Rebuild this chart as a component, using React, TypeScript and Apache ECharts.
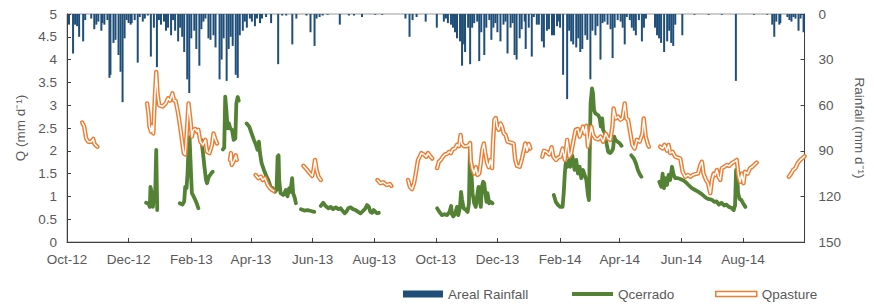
import React, { useEffect, useRef } from "react";
import * as echarts from "echarts";

const DAY = 86400000;
const START = Date.UTC(2012, 9, 1);
const END_DAY = 730;

// x-axis tick months (year, monthIndex) and their labels
const xTickMonths: [number, number][] = [
  [2012, 9], [2012, 11], [2013, 1], [2013, 3], [2013, 5], [2013, 7],
  [2013, 9], [2013, 11], [2014, 1], [2014, 3], [2014, 5], [2014, 7],
];
const xTickLabels = [
  "Oct-12", "Dec-12", "Feb-13", "Apr-13", "Jun-13", "Aug-13",
  "Oct-13", "Dec-13", "Feb-14", "Apr-14", "Jun-14", "Aug-14",
];

// Areal rainfall: [day since 1 Oct 2012, mm/day]
const rainfall: [number, number][] = [
  [2, 7], [6, 26], [8, 7], [10, 8], [12, 15], [16, 18], [18, 4], [24, 3], [27, 10], [29, 7],
  [31, 5], [34, 11], [35, 6], [37, 7], [40, 4], [42, 42], [43, 40], [46, 19], [48, 17], [51, 27],
  [53, 38], [55, 58], [57, 16], [59, 4], [61, 6], [63, 7], [64, 6], [67, 4], [70, 32], [72, 2],
  [75, 5], [77, 3], [80, 1], [83, 28], [86, 9], [89, 35], [91, 4], [93, 7], [96, 5], [98, 11],
  [100, 9], [103, 14], [105, 4], [107, 11], [110, 18], [112, 9], [114, 15], [116, 25], [119, 43], [121, 52],
  [123, 16], [126, 11], [128, 23], [131, 34], [133, 10], [135, 5], [137, 3], [140, 16], [142, 17], [145, 14],
  [147, 22], [151, 43], [153, 30], [155, 16], [158, 44], [160, 23], [162, 15], [164, 21], [167, 40], [169, 42],
  [171, 14], [174, 11], [176, 5], [178, 9], [181, 3], [183, 5], [186, 8], [188, 3], [191, 6], [193, 3],
  [197, 2], [202, 6], [209, 33], [213, 1], [217, 1], [223, 20], [227, 3], [237, 1], [241, 12], [245, 21],
  [247, 3], [250, 2], [253, 1], [258, 0.5], [270, 7], [279, 1], [284, 1], [292, 2], [305, 0.5], [312, 0.5],
  [335, 3], [339, 15], [342, 4], [346, 2], [355, 5], [366, 9], [373, 5], [375, 3], [377, 6], [380, 7],
  [382, 9], [384, 12], [386, 16], [389, 18], [391, 34], [393, 20], [394, 25], [397, 9], [399, 33], [401, 9],
  [403, 6], [406, 5], [408, 31], [410, 12], [413, 27], [415, 9], [418, 4], [420, 17], [422, 9], [424, 6],
  [426, 12], [429, 18], [432, 7], [434, 5], [436, 26], [439, 9], [441, 6], [443, 27], [445, 30], [448, 16],
  [450, 10], [453, 5], [454, 23], [457, 9], [460, 28], [462, 2], [465, 7], [467, 7], [470, 18], [472, 22],
  [475, 11], [477, 10], [480, 14], [482, 14], [485, 8], [487, 5], [488, 9], [491, 40], [495, 56], [497, 11],
  [499, 18], [501, 20], [504, 22], [506, 16], [508, 25], [510, 23], [513, 14], [515, 17], [518, 43], [520, 11],
  [523, 14], [525, 8], [528, 30], [530, 6], [532, 5], [535, 7], [538, 10], [540, 29], [542, 9], [545, 4],
  [548, 5], [550, 9], [552, 20], [554, 2], [557, 4], [559, 9], [561, 11], [563, 14], [566, 4], [569, 18],
  [571, 9], [573, 3], [582, 9], [584, 14], [586, 16], [588, 19], [591, 25], [594, 18], [596, 11], [598, 19],
  [600, 21], [602, 7], [609, 14], [621, 0.5], [635, 0.5], [648, 0.5], [662, 44], [680, 0.5], [693, 0.5], [698, 7],
  [700, 15], [702, 5], [705, 7], [706, 6], [713, 2], [715, 4], [717, 5], [719, 2], [721, 3], [724, 11],
  [726, 3], [729, 12],
];

// Qcerrado: [day, mm/day], null = gap
const qCerrado: ([number, number] | null)[] = [
  [78.3, 0.86], [80.6, 0.84], [82, 0.77], [82.6, 1.21], [84, 1.07], [85, 0.77], [86, 0.98], [87.3, 1.07], [88.3, 2.02], [89.3, 0.7], null,
  [111.6, 0.85], [114.3, 0.82], [116, 0.89], [117, 1.21], [118.3, 1.18], [119.3, 1.5], [120.3, 2.09], [121.3, 2.3], [122.6, 1.58], [123.6, 1.07], [125.3, 1.0], [127, 0.92], [128.3, 0.85], [130, 0.74], null,
  [133, 2.24], [134.6, 1.95], [136, 1.65], [137.6, 1.36], [138.6, 1.29], [140.3, 1.43], [142.6, 1.5], [144.2, 1.54], null,
  [154.3, 2.03], [155.6, 2.07], [156.6, 3.19], [157.6, 2.93], [159, 2.49], [160.3, 2.6], [161.6, 2.49], [163.3, 2.46], [165, 2.24], [166.6, 2.27], [167.6, 3.04], [169, 3.18], [170, 3.1], null,
  [177.8, 2.6], [180.4, 2.53], [182.7, 2.38], [185, 2.24], [187, 2.13], [188.6, 2.02], [189.9, 2.2], [191, 1.95], [192.6, 1.73], [194.9, 1.58], [196.9, 1.47], [199.2, 1.36], [201.5, 1.21], [203.5, 1.18], [205.8, 1.1], [207.4, 1.14], [208.4, 1.87], [209.4, 1.9], [210, 1.36], [211.4, 1.07], [214, 1.03], [216.6, 1.14], [218.2, 1.0], [219.9, 1.18], [221.2, 1.1], [222.8, 1.4], [223.8, 1.07], [225.5, 0.96], [226.5, 0.85], null,
  [231.6, 0.72], [234.9, 0.69], [238.1, 0.7], [241.4, 0.68], [244.7, 0.66], null,
  [251.2, 0.79], [253.5, 0.86], [256, 0.79], [258.7, 0.74], [261, 0.77], [263.3, 0.72], [266, 0.76], [268.6, 0.72], [270.9, 0.74], [272.5, 0.69], [274.8, 0.63], [276.4, 0.66], [278.4, 0.74], [280.7, 0.76], [283, 0.72], [285.6, 0.7], [288.2, 0.66], [290.5, 0.63], [292, 0.66], [294.8, 0.72], [297, 0.81], [298.7, 0.77], [300.3, 0.66], [302, 0.64], [303.6, 0.7], [305.3, 0.66], [307, 0.63], [308.6, 0.64], null,
  [366.3, 0.74], [368.6, 0.66], [371, 0.59], [373.6, 0.61], [376.2, 0.59], [378.5, 0.66], [380.2, 0.79], [381, 0.61], [382.4, 0.56], [384, 0.61], [386, 0.77], [387.3, 0.59], [389, 0.77], [390, 1.1], [391, 0.93], [392.6, 0.74], [394.9, 0.7], [396.5, 0.66], [397.8, 0.85], [398.8, 2.05], [399.8, 1.69], [401.4, 1.07], [403, 0.85], [404.6, 0.77], [406.3, 1.07], [407.3, 1.21], [408.3, 0.93], [409.6, 0.77], [410.6, 1.21], [411.9, 1.32], [412.9, 1.29], [413.9, 1.1], [415.2, 0.88], [416.2, 1.07], [417.8, 0.85], [419.5, 0.88], [421.1, 0.85], null,
  [481.8, 1.03], [483.8, 0.88], [486, 0.81], [488.3, 0.77], [490.5, 0.77], [491.6, 1.07], [492.7, 1.5], [493.6, 1.73], [495.2, 1.65], [497, 1.8], [498.2, 1.65], [500, 1.9], [501.4, 1.73], [502.4, 1.58], [504, 1.8], [505.7, 1.5], [507.4, 1.65], [509, 1.4], [510.6, 1.58], [512.3, 1.47], [514, 1.36], [515.6, 1.03], [516.6, 0.92], [517.3, 1.87], [518.2, 3.04], [519.6, 3.37], [520.6, 3.26], [521.6, 2.89], [523, 2.82], [525.7, 2.78], [527.3, 2.71], [528.3, 2.53], [529.7, 2.71], [530.6, 2.46], [532.4, 2.38], [534, 2.16], [535.6, 1.98], [537.3, 1.95], [538.9, 1.98], [540.5, 2.05], [541.6, 2.31], [542.8, 2.24], [544.9, 2.2], [547.2, 2.16], [548.8, 2.11], null,
  [558.5, 1.9], [561, 1.83], [563, 1.73], [565, 1.58], [567.3, 1.47], [568.5, 1.43], null,
  [586.2, 1.32], [588.2, 1.21], [589.5, 1.5], [590.8, 1.18], [592.1, 1.4], [593.8, 1.25], [595.4, 1.47], [597, 1.36], [598.8, 1.65], [600.4, 1.47], [602, 1.4], [604.6, 1.4], [607, 1.38], [610.2, 1.35], [612.5, 1.31], [615.1, 1.25], [618.4, 1.18], [621.7, 1.14], [625, 1.1], [628.2, 1.05], [630.8, 1.0], [633.1, 0.96], [635.4, 0.94], [638, 0.93], [640.6, 0.88], [642.9, 0.89], [645.2, 0.82], [647.8, 0.86], [650.4, 0.8], [652.7, 0.82], [655, 0.77], [657.6, 0.75], [659.9, 0.7], [661.2, 0.8], [662.2, 1.58], [663.2, 1.5], [664.2, 1.07], [665.8, 0.94], [667.5, 0.92], [669.1, 0.85], [671.4, 0.77],
];

// Qpasture: [day, mm/day], null = gap
const qPasture: ([number, number] | null)[] = [
  [15, 2.62], [17, 2.53], [19, 2.27], [21, 2.2], [24, 2.2], [26, 2.26], [27, 2.16], [28, 2.13], [30, 2.09], null,
  [79.3, 3.04], [80.6, 2.82], [81.6, 2.53], [83.2, 2.42], [84, 2.55], [85.4, 2.38], [87, 3.19], [88.3, 3.73], [89.6, 3.26], [91.2, 3.0], [94.5, 2.97], [97.8, 3.04], [100, 3.15], [102, 3.1], [104.3, 3.26], [106, 3.1], [107.5, 3.1], [110, 2.82], [112, 2.53], [114, 2.2], [115.6, 1.95], [117, 1.92], [118.7, 2.46], [120.3, 3.04], [122, 2.71], [123.6, 2.31], [125, 2.46], [127, 2.48], [128.6, 2.42], [130, 2.46], [132, 2.2], [134.5, 2.13], [137, 2.24], [138.6, 1.98], [141, 1.95], [143.5, 2.13], [145, 2.38], [147, 2.24], [148.6, 2.16], null,
  [161.3, 1.8], [162.3, 1.95], [163, 1.69], [165.6, 1.8], [167, 1.9], [168, 1.8], null,
  [186.7, 1.47], [189.3, 1.4], [192, 1.43], [193.6, 1.36], [196, 1.4], [198.6, 1.25], [200.9, 1.18], [203, 1.14], [204.5, 1.12], null,
  [234, 1.67], [237.3, 1.59], [240.6, 1.5], [242.7, 1.45], [244, 1.58], [245.5, 1.8], [247, 1.58], [249, 1.43], [251.3, 1.36], null,
  [307.3, 1.36], [310, 1.29], [313, 1.31], [316.4, 1.25], [319.6, 1.27], [321, 1.23], null,
  [337.6, 1.36], [339.3, 1.21], [341.5, 1.16], [343.5, 1.29], [345.8, 1.58], [347.4, 1.8], [349, 1.87], [350.7, 1.95], [353, 1.92], [355.6, 1.87], [357.3, 1.95], [360, 1.87], [361.5, 1.83], null,
  [366.3, 1.62], [368, 1.76], [370, 1.8], [372, 1.87], [374, 1.92], [376, 1.93], [378.4, 1.98], [380, 1.95], [381.6, 2.03], [384, 2.05], [386, 2.13], [388, 2.1], [389.5, 2.35], [390.5, 2.16], [393, 2.1], [395.6, 2.1], [398, 2.13], [399, 2.17], [399.6, 1.8], [401, 1.62], [403, 1.5], [404.6, 1.64], [406.3, 1.47], [408, 1.5], [409.5, 1.73], [411, 2.02], [412.6, 2.16], [414, 1.95], [415.8, 1.73], [417.4, 1.64], [419, 1.8], [420.7, 1.62], [421.6, 2.16], [423, 2.68], [424.4, 2.72], [425.7, 2.53], [427.3, 2.46], [429, 2.6], [430.6, 2.53], [432.3, 2.38], [434, 2.35], [436, 2.2], [439, 2.18], [442, 2.16], [443.6, 1.8], [445.3, 1.67], [448, 1.65], [450, 1.8], [452, 2.0], [453.6, 2.16], [455.3, 2.0], [457, 2.15], [458.6, 2.05], null,
  [470.4, 1.87], [472, 2.0], [474.7, 1.98], [477.3, 1.92], [479.6, 2.08], [481.3, 1.87], [484, 1.8], [486, 1.85], [488.3, 1.87], [490.5, 2.05], [492.7, 1.8], [495, 2.24], [497, 1.87], [499, 1.95], [501.4, 2.24], [503.4, 2.46], [505.7, 2.48], [507.4, 2.31], [509, 2.42], [510.6, 2.53], [512.3, 2.38], [514, 2.55], [515.6, 2.09], [517.3, 2.31], [519, 2.53], [520.6, 2.35], [523, 2.27], [525.7, 2.25], [528, 2.31], [530.6, 2.2], [533.2, 2.38], [535.5, 2.27], [537.8, 2.24], [539.8, 2.53], [541, 2.93], [543, 2.71], [545.4, 2.75], [547.7, 2.68], [549.7, 2.71], [552, 3.04], [553.6, 2.71], [555.3, 2.68], [557.6, 2.38], [559.5, 2.13], [561.8, 2.05], [564, 2.24], [566.8, 2.2], [569.5, 2.38], [570.8, 2.71], [572.8, 2.31], [575, 2.13], [576, 2.09], null,
  [587, 2.09], [589.5, 2.05], [591.5, 2.13], [593.8, 2.0], [595.4, 2.13], [597, 1.95], [599.4, 1.98], [602, 1.87], [604.6, 1.85], [607, 1.83], [609.3, 1.54], [612, 1.43], [614.6, 1.47], [617, 1.43], [619.2, 1.47], [621.9, 1.49], [624.5, 1.5], [626.8, 1.69], [628.4, 1.76], [630, 1.5], [632.4, 1.36], [634.4, 1.29], [636.7, 1.07], [638.3, 1.36], [640, 1.5], [641.6, 1.47], [643.2, 1.58], [644.9, 1.43], [646.5, 1.36], [648.1, 1.62], [650.7, 1.65], [653, 1.69], [655.3, 1.67], [658, 1.73], [660.6, 1.76], [662.9, 1.8], [664.5, 1.47], [666.2, 1.32], [667.8, 1.5], [669.5, 1.29], [671, 1.54], [673.7, 1.5], [676, 1.62], [678.3, 1.65], [681, 1.71], [682.6, 1.74], null,
  [714.4, 1.43], [716.7, 1.5], [718.7, 1.58], [721, 1.62], [723.2, 1.73], [725.8, 1.8], [728.5, 1.85], [730, 1.88],
];

const qTicks = { min: 0, max: 5, interval: 0.5 };
const rainTicks = { min: 0, max: 150, interval: 30 };

const TEXT = "#595959";
const AXIS = "#3f3f3f";
const FONT = "'Liberation Sans', Arial, sans-serif";
const FS = 13.5;

const toSeries = (arr: ([number, number] | null)[]) => {
  const out: any[] = [];
  let last = 0;
  for (const p of arr) {
    if (p === null) out.push([last + 0.5, null]);
    else {
      out.push([p[0], p[1]]);
      last = p[0];
    }
  }
  return out;
};

export default function App() {
  const ref = useRef<HTMLDivElement>(null);
  useEffect(() => {
    if (!ref.current) return;
    const chart = echarts.init(ref.current, undefined, { renderer: "svg" });
    const tickDays = xTickMonths.map(([y, m]) => Math.round((Date.UTC(y, m, 1) - START) / DAY));
    const labelFor = (v: number) => {
      let best = 0;
      let bd = Infinity;
      tickDays.forEach((t, i) => {
        const d = Math.abs(t - v);
        if (d < bd) { bd = d; best = i; }
      });
      return xTickLabels[best];
    };
    const textStyle = { color: TEXT, fontFamily: FONT, fontSize: FS };
    const pastureData = toSeries(qPasture);
    const legendBase = { top: 287, padding: 0, textStyle, selectedMode: false };
    chart.setOption({
      animation: false,
      textStyle: { fontFamily: FONT },
      grid: {
        left: 67, right: 61, top: 14, bottom: 63,
        show: true, borderColor: "#9a9a9a", borderWidth: 1, backgroundColor: "transparent",
      },
      legend: [
        {
          ...legendBase, left: 403, itemWidth: 40, itemHeight: 7,
          data: [{ name: "Areal Rainfall", icon: "rect" }],
        },
        {
          ...legendBase, left: 572, itemWidth: 41, itemHeight: 4,
          data: [{ name: "Qcerrado", icon: "rect", itemStyle: { color: "#548235" } }],
        },
        {
          ...legendBase, left: 715, itemWidth: 41, itemHeight: 5,
          data: [{
            name: "Qpasture", icon: "rect",
            itemStyle: { color: "#ffffff", borderColor: "#ED7D31", borderWidth: 1.5 },
          }],
        },
      ],
      xAxis: {
        type: "value",
        min: 0,
        max: END_DAY,
        splitLine: { show: false },
        axisLine: { lineStyle: { color: AXIS, width: 1 } },
        axisTick: { show: true, inside: true, length: 4, lineStyle: { color: AXIS }, customValues: tickDays },
        axisLabel: {
          ...textStyle, margin: 10, customValues: tickDays,
          formatter: (v: number) => labelFor(v),
        },
        minorTick: { show: false },
      },
      yAxis: [
        {
          type: "value", ...qTicks, position: "left",
          name: "Q (mm d⁻¹)", nameLocation: "middle", nameGap: 38, nameTextStyle: textStyle,
          splitLine: { show: false },
          axisLine: { show: true, lineStyle: { color: AXIS, width: 1 } },
          axisTick: { show: true, inside: true, length: 4, lineStyle: { color: AXIS } },
          axisLabel: { ...textStyle, margin: 10 },
        },
        {
          type: "value", ...rainTicks, position: "right", inverse: true,
          name: "Rainfall (mm d⁻¹)", nameLocation: "middle", nameGap: 45, nameRotate: -90,
          nameTextStyle: textStyle,
          splitLine: { show: false },
          axisLine: { show: true, lineStyle: { color: AXIS, width: 1 } },
          axisTick: { show: true, inside: true, length: 4, lineStyle: { color: AXIS } },
          axisLabel: { ...textStyle, margin: 14 },
        },
      ],
      series: [
        {
          name: "Areal Rainfall", type: "bar", yAxisIndex: 1, barWidth: 2,
          itemStyle: { color: "#1F4E79" },
          data: rainfall.map(([d, v]) => [d, v]),
          z: 2,
        },
        {
          name: "Qcerrado", type: "line", yAxisIndex: 0, showSymbol: false, symbol: "none",
          connectNulls: false,
          lineStyle: { color: "#548235", width: 3.8, join: "round", cap: "round" },
          itemStyle: { color: "#548235" },
          data: toSeries(qCerrado), z: 3,
        },
        {
          name: "Qpasture", type: "line", yAxisIndex: 0, showSymbol: false, symbol: "none",
          connectNulls: false,
          lineStyle: { color: "#ED7D31", width: 4.4, join: "round", cap: "round" },
          itemStyle: { color: "#ED7D31" },
          data: pastureData, z: 4,
        },
        {
          name: "Qpasture inner", type: "line", yAxisIndex: 0, showSymbol: false, symbol: "none",
          connectNulls: false, silent: true,
          lineStyle: { color: "#ffffff", width: 1.5, join: "round", cap: "round" },
          itemStyle: { color: "#ffffff" },
          data: pastureData, z: 5,
        },
      ],
    });
    return () => chart.dispose();
  }, []);
  return <div ref={ref} style={{ width: 874, height: 305, position: "absolute", left: 0, top: 0 }} />;
}
